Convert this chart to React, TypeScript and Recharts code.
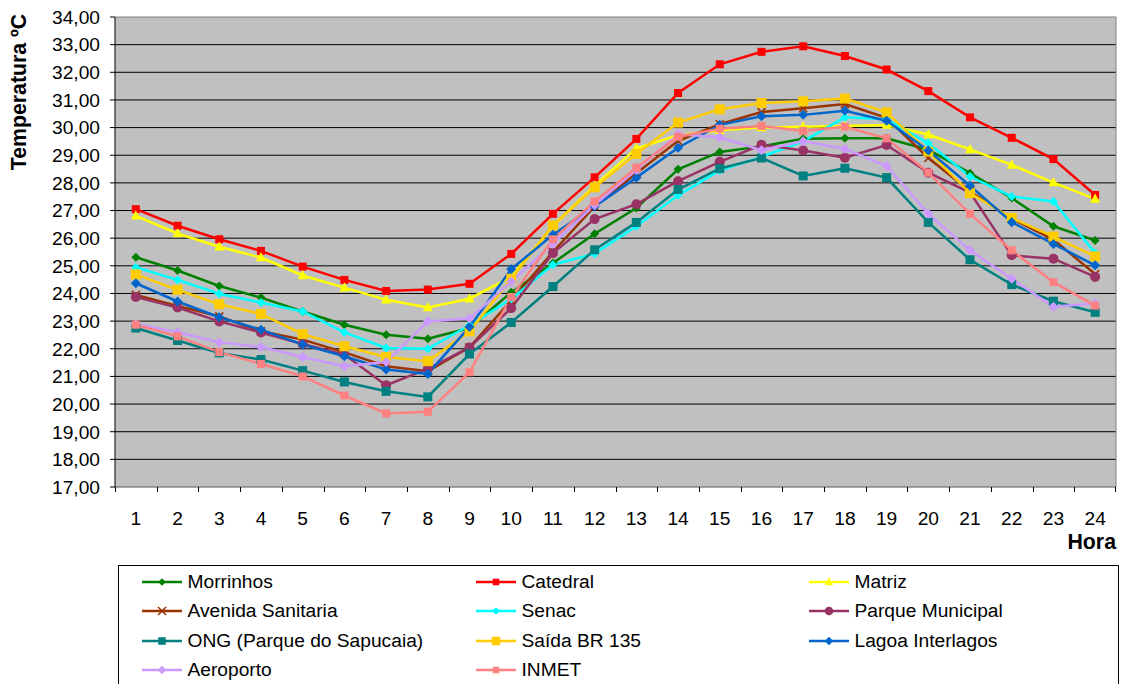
import React from 'react';
import { LineChart, Line, XAxis, YAxis, CartesianGrid, ReferenceLine, Legend } from 'recharts';

const HOURS = [1, 2, 3, 4, 5, 6, 7, 8, 9, 10, 11, 12, 13, 14, 15, 16, 17, 18, 19, 20, 21, 22, 23, 24];
const Y_TICKS = [17, 18, 19, 20, 21, 22, 23, 24, 25, 26, 27, 28, 29, 30, 31, 32, 33, 34];

const MORRINHOS = [25.31, 24.83, 24.27, 23.85, 23.35, 22.87, 22.51, 22.36, 22.75, 24.04, 25.1, 26.16, 27.09, 28.49, 29.12, 29.32, 29.6, 29.61, 29.61, 29.2, 28.35, 27.45, 26.43, 25.92];
const CATEDRAL = [27.05, 26.45, 25.96, 25.54, 24.97, 24.49, 24.09, 24.14, 24.35, 25.43, 26.88, 28.2, 29.59, 31.25, 32.29, 32.74, 32.94, 32.59, 32.1, 31.32, 30.37, 29.63, 28.86, 27.56];
const MATRIZ = [26.81, 26.17, 25.69, 25.3, 24.65, 24.21, 23.77, 23.49, 23.81, 24.6, 26.45, 27.9, 29.25, 29.72, 29.9, 30.0, 30.03, 30.06, 30.09, 29.75, 29.21, 28.65, 28.01, 27.42];
const AVENIDA = [23.95, 23.55, 23.17, 22.63, 22.33, 21.87, 21.37, 21.19, 22.05, 23.75, 25.5, 27.15, 28.35, 29.52, 30.12, 30.56, 30.7, 30.85, 30.35, 28.9, 27.7, 26.7, 25.95, 24.7];
const SENAC = [24.95, 24.49, 23.99, 23.67, 23.35, 22.59, 22.03, 22.0, 22.85, 23.8, 25.04, 25.44, 26.43, 27.55, 28.45, 28.94, 29.5, 30.37, 30.3, 29.43, 28.23, 27.51, 27.33, 25.46];
const PARQUE = [23.87, 23.49, 22.99, 22.59, 22.17, 21.79, 20.68, 21.27, 22.05, 23.47, 25.46, 26.69, 27.23, 28.06, 28.76, 29.38, 29.17, 28.91, 29.37, 28.37, 27.65, 25.38, 25.26, 24.6];
const ONG = [22.75, 22.3, 21.85, 21.61, 21.21, 20.8, 20.46, 20.26, 21.81, 22.95, 24.25, 25.58, 26.57, 27.76, 28.52, 28.9, 28.25, 28.53, 28.19, 26.57, 25.22, 24.32, 23.72, 23.32];
const SAIDA = [24.69, 24.13, 23.61, 23.26, 22.53, 22.09, 21.7, 21.55, 22.63, 24.53, 26.46, 27.84, 29.05, 30.18, 30.66, 30.89, 30.95, 31.05, 30.55, 29.13, 27.63, 26.73, 26.06, 25.34];
const LAGOA = [24.37, 23.71, 23.14, 22.69, 22.15, 21.73, 21.25, 21.09, 22.79, 24.88, 26.12, 27.15, 28.19, 29.27, 30.1, 30.41, 30.46, 30.61, 30.25, 29.17, 27.9, 26.58, 25.79, 25.02];
const AEROPORTO = [22.9, 22.6, 22.24, 22.06, 21.7, 21.37, 21.52, 22.99, 23.1, 24.43, 25.8, 27.2, 28.47, 29.76, 29.65, 29.18, 29.51, 29.23, 28.61, 26.88, 25.56, 24.53, 23.52, 23.64];
const INMET = [22.87, 22.45, 21.88, 21.45, 21.0, 20.31, 19.66, 19.72, 21.15, 23.87, 25.96, 27.33, 28.55, 29.67, 29.96, 30.06, 29.88, 30.03, 29.61, 28.37, 26.88, 25.56, 24.41, 23.56];

type Shape = 'diamond' | 'square' | 'triangle' | 'x' | 'circle';

const SERIES: { key: string; name: string; values: number[]; color: string; shape: Shape; size: number }[] = [
  { key: 'morrinhos', name: 'Morrinhos', values: MORRINHOS, color: '#008000', shape: 'diamond', size: 9 },
  { key: 'catedral', name: 'Catedral', values: CATEDRAL, color: '#FF0000', shape: 'square', size: 8 },
  { key: 'matriz', name: 'Matriz', values: MATRIZ, color: '#FFFF00', shape: 'triangle', size: 10 },
  { key: 'avenida', name: 'Avenida Sanitaria', values: AVENIDA, color: '#993300', shape: 'x', size: 8 },
  { key: 'senac', name: 'Senac', values: SENAC, color: '#00FFFF', shape: 'diamond', size: 9 },
  { key: 'parque', name: 'Parque Municipal', values: PARQUE, color: '#993366', shape: 'circle', size: 10 },
  { key: 'ong', name: 'ONG (Parque do Sapucaia)', values: ONG, color: '#008080', shape: 'square', size: 9 },
  { key: 'saida', name: 'Saída BR 135', values: SAIDA, color: '#FFCC00', shape: 'square', size: 10 },
  { key: 'lagoa', name: 'Lagoa Interlagos', values: LAGOA, color: '#0066CC', shape: 'diamond', size: 10 },
  { key: 'aeroporto', name: 'Aeroporto', values: AEROPORTO, color: '#CC99FF', shape: 'diamond', size: 10 },
  { key: 'inmet', name: 'INMET', values: INMET, color: '#FF8080', shape: 'square', size: 8 },
];

const DATA = HOURS.map((h, i) => {
  const row: Record<string, number> = { hour: h };
  SERIES.forEach((s) => {
    row[s.key] = s.values[i];
  });
  return row;
});

const FONT = '"Liberation Sans", Arial, Helvetica, sans-serif';
const PLOT_W = 1001;
const STEP = PLOT_W / HOURS.length;
const TICK_MARGIN = 24.6;
const TICK_LEN = 5;

function marker(shape: Shape, color: string, size: number, cx: number, cy: number, key?: React.Key) {
  const h = size / 2;
  switch (shape) {
    case 'square':
      return <rect key={key} x={cx - h} y={cy - h} width={size} height={size} fill={color} />;
    case 'diamond':
      return <polygon key={key} points={`${cx},${cy - h} ${cx + h},${cy} ${cx},${cy + h} ${cx - h},${cy}`} fill={color} />;
    case 'triangle':
      return <polygon key={key} points={`${cx},${cy - h * 1.1} ${cx + h},${cy + h * 0.75} ${cx - h},${cy + h * 0.75}`} fill={color} />;
    case 'circle':
      return <circle key={key} cx={cx} cy={cy} r={h} fill={color} />;
    case 'x':
    default:
      return (
        <g key={key} stroke={color} strokeWidth={1.6}>
          <line x1={cx - h} y1={cy - h} x2={cx + h} y2={cy + h} />
          <line x1={cx - h} y1={cy + h} x2={cx + h} y2={cy - h} />
        </g>
      );
  }
}

function makeDot(shape: Shape, color: string, size: number) {
  return (props: any) => {
    const { cx, cy, index } = props;
    if (cx == null || cy == null) return <g key={index} />;
    return marker(shape, color, size, cx, cy, index);
  };
}

const fmt = (v: number) => v.toFixed(2).replace('.', ',');

const HourTick = (props: any) => {
  const { x, y, payload, index } = props;
  const axisY = y - TICK_MARGIN;
  const isLast = index === HOURS.length - 1;
  const bx = Math.round(x - STEP / 2) + 0.5;
  const ex = Math.round(x + STEP / 2) - 0.5;
  return (
    <g>
      <line x1={bx} y1={axisY} x2={bx} y2={axisY + TICK_LEN} stroke="#000" strokeWidth={1} />
      {isLast && <line x1={ex} y1={axisY} x2={ex} y2={axisY + TICK_LEN} stroke="#000" strokeWidth={1} />}
      <text x={x} y={y} dy="0.71em" textAnchor="middle" fill="#000" fontSize={19.2} fontFamily={FONT}>
        {payload.value}
      </text>
    </g>
  );
};

const YTitle = () => (
  <text
    x={26}
    y={92}
    transform="rotate(-90 26 92)"
    textAnchor="middle"
    fontWeight="bold"
    fontSize={21.3}
    fill="#000"
    fontFamily={FONT}
  >
    Temperatura ºC
  </text>
);

const XTitle = (props: any) => {
  const vb = props.viewBox || { x: 115, y: 487, width: 1001 };
  return (
    <text x={vb.x + vb.width} y={549} textAnchor="end" fontWeight="bold" fontSize={21.3} fill="#000" fontFamily={FONT}>
      Hora
    </text>
  );
};

const COL_X = [24, 358, 691];
const ROW_Y = [16.7, 46.1, 75.5, 104.9];

const LegendBox = () => (
  <div
    style={{
      position: 'relative',
      width: 1001,
      height: 119,
      boxSizing: 'border-box',
      borderTop: '1px solid #000',
      borderLeft: '1px solid #000',
      borderRight: '1px solid #000',
      background: '#fff',
      fontFamily: FONT,
      fontSize: 19.2,
      color: '#000',
    }}
  >
    {SERIES.map((s, i) => {
      const col = i % 3;
      const row = Math.floor(i / 3);
      return (
        <div
          key={s.key}
          style={{
            position: 'absolute',
            left: COL_X[col] - 1,
            top: ROW_Y[row] - 15 - 1,
            height: 30,
            display: 'flex',
            alignItems: 'center',
            whiteSpace: 'nowrap',
          }}
        >
          <svg width={40} height={30} style={{ display: 'block' }}>
            <line x1={0} y1={15} x2={40} y2={15} stroke={s.color} strokeWidth={2.5} />
            {marker(s.shape, s.color, s.shape === 'x' ? 8 : s.size - 1.5, 20, 15)}
          </svg>
          <span style={{ marginLeft: 5.5, lineHeight: '30px' }}>{s.name}</span>
        </div>
      );
    })}
  </div>
);

export default function App() {
  return (
    <div style={{ position: 'absolute', left: 0, top: 0, width: 1126, height: 684, background: '#fff', fontFamily: FONT }}>
      <LineChart width={1126} height={684} data={DATA} margin={{ top: 17, right: 10, left: 0, bottom: 137 }}>
        <CartesianGrid
          vertical={false}
          horizontalValues={Y_TICKS.slice(1, -1)}
          stroke="#000"
          strokeWidth={1}
          fill="#C0C0C0"
          fillOpacity={1}
        />
        <XAxis
          dataKey="hour"
          type="number"
          domain={[0.5, 24.5]}
          ticks={HOURS}
          interval={0}
          axisLine={{ stroke: '#555' }}
          tickLine={false}
          tickSize={0}
          tickMargin={TICK_MARGIN}
          height={60}
          tick={HourTick}
          label={XTitle}
        />
        <YAxis
          type="number"
          domain={[17, 34]}
          ticks={Y_TICKS}
          interval={0}
          width={115}
          tickSize={5}
          tickMargin={10}
          tickFormatter={fmt}
          axisLine={{ stroke: '#000' }}
          tickLine={{ stroke: '#000' }}
          tick={{ fill: '#000', fontSize: 19.2, fontFamily: FONT }}
          label={YTitle}
        />
        <ReferenceLine y={34} stroke="#808080" strokeWidth={1} />
        <ReferenceLine x={24.5} stroke="#808080" strokeWidth={1} />
        {SERIES.map((s) => (
          <Line
            key={s.key}
            type="linear"
            dataKey={s.key}
            name={s.name}
            stroke={s.color}
            strokeWidth={2.5}
            dot={makeDot(s.shape, s.color, s.size)}
            activeDot={false}
            isAnimationActive={false}
          />
        ))}
        <Legend
          layout="horizontal"
          verticalAlign="middle"
          align="center"
          wrapperStyle={{ position: 'absolute', left: 118, top: 565, width: 1001, height: 119 }}
          content={() => <LegendBox />}
        />
      </LineChart>
    </div>
  );
}
